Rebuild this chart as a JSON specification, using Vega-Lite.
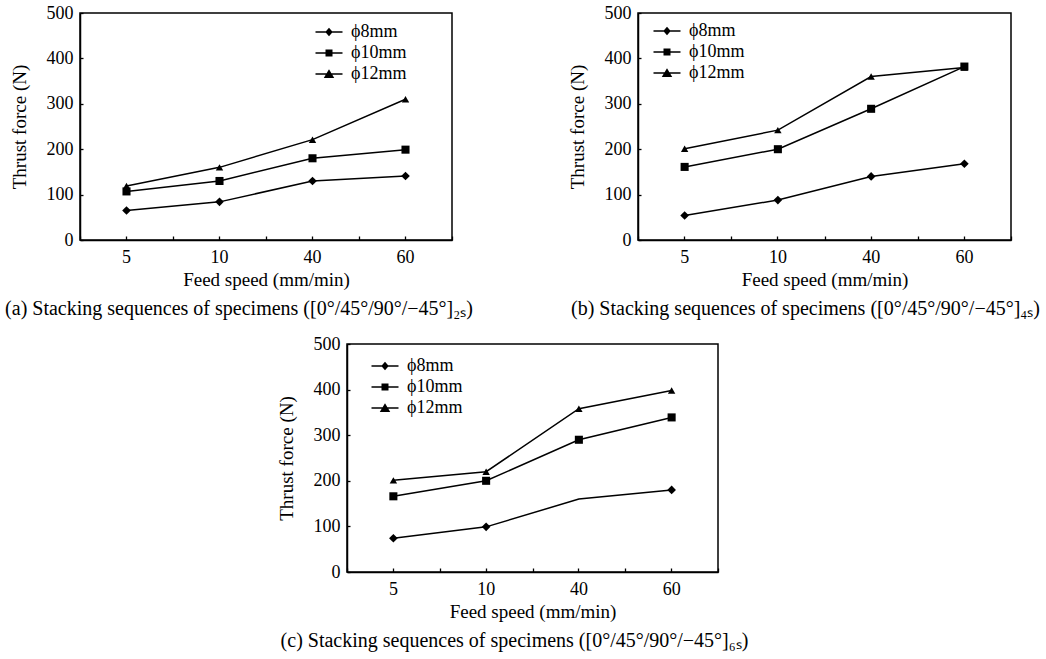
{
  "$schema": "https://vega.github.io/schema/vega-lite/v6.json",
  "autosize": {"type": "pad"},
  "padding": {"left": 4, "top": 3, "right": 0, "bottom": 0},
  "background": "white",
  "datasets": {
    "thrust": [
      {"panel": "a", "feed": "5", "series": "ϕ8mm", "force": 65},
      {"panel": "a", "feed": "10", "series": "ϕ8mm", "force": 84},
      {"panel": "a", "feed": "40", "series": "ϕ8mm", "force": 130},
      {"panel": "a", "feed": "60", "series": "ϕ8mm", "force": 141},
      {"panel": "a", "feed": "5", "series": "ϕ10mm", "force": 107},
      {"panel": "a", "feed": "10", "series": "ϕ10mm", "force": 130},
      {"panel": "a", "feed": "40", "series": "ϕ10mm", "force": 180},
      {"panel": "a", "feed": "60", "series": "ϕ10mm", "force": 199},
      {"panel": "a", "feed": "5", "series": "ϕ12mm", "force": 119},
      {"panel": "a", "feed": "10", "series": "ϕ12mm", "force": 160},
      {"panel": "a", "feed": "40", "series": "ϕ12mm", "force": 221},
      {"panel": "a", "feed": "60", "series": "ϕ12mm", "force": 310},
      {"panel": "b", "feed": "5", "series": "ϕ8mm", "force": 54},
      {"panel": "b", "feed": "10", "series": "ϕ8mm", "force": 88},
      {"panel": "b", "feed": "40", "series": "ϕ8mm", "force": 140},
      {"panel": "b", "feed": "60", "series": "ϕ8mm", "force": 168},
      {"panel": "b", "feed": "5", "series": "ϕ10mm", "force": 161},
      {"panel": "b", "feed": "10", "series": "ϕ10mm", "force": 200},
      {"panel": "b", "feed": "40", "series": "ϕ10mm", "force": 289},
      {"panel": "b", "feed": "60", "series": "ϕ10mm", "force": 382},
      {"panel": "b", "feed": "5", "series": "ϕ12mm", "force": 201},
      {"panel": "b", "feed": "10", "series": "ϕ12mm", "force": 242},
      {"panel": "b", "feed": "40", "series": "ϕ12mm", "force": 360},
      {"panel": "b", "feed": "60", "series": "ϕ12mm", "force": 380},
      {"panel": "c", "feed": "5", "series": "ϕ8mm", "force": 74},
      {"panel": "c", "feed": "10", "series": "ϕ8mm", "force": 99},
      {"panel": "c", "feed": "40", "series": "ϕ8mm", "force": 160},
      {"panel": "c", "feed": "60", "series": "ϕ8mm", "force": 180},
      {"panel": "c", "feed": "5", "series": "ϕ10mm", "force": 166},
      {"panel": "c", "feed": "10", "series": "ϕ10mm", "force": 200},
      {"panel": "c", "feed": "40", "series": "ϕ10mm", "force": 290},
      {"panel": "c", "feed": "60", "series": "ϕ10mm", "force": 339},
      {"panel": "c", "feed": "5", "series": "ϕ12mm", "force": 201},
      {"panel": "c", "feed": "10", "series": "ϕ12mm", "force": 220},
      {"panel": "c", "feed": "40", "series": "ϕ12mm", "force": 358},
      {"panel": "c", "feed": "60", "series": "ϕ12mm", "force": 398}
    ]
  },
  "spacing": 14,
  "vconcat": [
    {
      "bounds": "flush",
      "spacing": 186,
      "hconcat": [
        {
          "width": 372, "height": 227,
          "data": {"name": "thrust"},
          "transform": [{"filter": "datum.panel === 'a'"}],
          "title": {"text": "(a) Stacking sequences of specimens ([0°/45°/90°/−45°]₂ₛ)", "orient": "bottom", "anchor": "middle", "dx": -27, "offset": 10},
          "layer": [
            {
              "mark": {"type": "line", "color": "black", "strokeWidth": 1.5},
              "encoding": {
                "x": {"field": "feed", "type": "ordinal", "sort": ["5", "10", "40", "60"], "bandPosition": 0.5, "scale": {"type": "band", "paddingInner": 0, "paddingOuter": 0},
                      "axis": {"orient": "bottom", "title": "Feed speed (mm/min)", "labelAngle": 0, "tickSize": -4, "labelPadding": 12, "titlePadding": 4}},
                "y": {"field": "force", "type": "quantitative", "scale": {"domain": [0, 500]},
                      "axis": {"values": [0, 100, 200, 300, 400, 500], "tickSize": -3, "labelPadding": 10, "title": "Thrust force (N)", "titlePadding": 17}},
                "detail": {"field": "series"}
              }
            },
            {
              "mark": {"type": "point", "filled": true, "color": "black", "opacity": 1},
              "encoding": {
                "x": {"field": "feed", "type": "ordinal", "sort": ["5", "10", "40", "60"], "bandPosition": 0.5,
                      "axis": {"orient": "bottom", "tickBand": "extent", "labels": false, "domain": false, "title": null, "tickSize": -4}},
                "y": {"field": "force", "type": "quantitative"},
                "shape": {"field": "series", "scale": {"domain": ["ϕ8mm", "ϕ10mm", "ϕ12mm"], "range": ["diamond", "square", "triangle-up"]}, "legend": null},
                "size": {"field": "series", "scale": {"domain": ["ϕ8mm", "ϕ10mm", "ϕ12mm"], "range": [75, 55, 110]}, "legend": null}
              }
            },
            {
              "mark": {"type": "point", "filled": true, "color": "black", "opacity": 0},
              "encoding": {
                "x": {"field": "feed", "type": "ordinal", "sort": ["5", "10", "40", "60"], "bandPosition": 0.5, "axis": null},
                "y": {"field": "force", "type": "quantitative"},
                "shape": {"field": "series", "scale": {"domain": ["ϕ8mm", "ϕ10mm", "ϕ12mm"], "range": ["M-2.7,-0.15H2.7V0.15H-2.7Z M0,-0.85L0.75,0L0,0.85L-0.75,0Z", "M-2.7,-0.15H2.7V0.15H-2.7Z M-0.7,-0.7H0.7V0.7H-0.7Z", "M-2.7,-0.15H2.7V0.15H-2.7Z M0,-0.95L1.05,0.8H-1.05Z"]},
                          "legend": {"orient": "none", "legendX": 240, "legendY": 10, "title": null, "symbolSize": 100, "symbolFillColor": "black", "symbolStrokeColor": "black", "symbolStrokeWidth": 0, "symbolOpacity": 1, "labelOffset": 13, "rowPadding": 3, "padding": 0}}
              }
            }
          ],
          "resolve": {"scale": {"shape": "independent"}, "axis": {"x": "independent"}}
        },
        {
          "width": 373, "height": 227,
          "data": {"name": "thrust"},
          "transform": [{"filter": "datum.panel === 'b'"}],
          "title": {"text": "(b)  Stacking sequences of specimens ([0°/45°/90°/−45°]₄ₛ)", "orient": "bottom", "anchor": "middle", "dx": -19, "offset": 10},
          "layer": [
            {
              "mark": {"type": "line", "color": "black", "strokeWidth": 1.5},
              "encoding": {
                "x": {"field": "feed", "type": "ordinal", "sort": ["5", "10", "40", "60"], "bandPosition": 0.5, "scale": {"type": "band", "paddingInner": 0, "paddingOuter": 0},
                      "axis": {"orient": "bottom", "title": "Feed speed (mm/min)", "labelAngle": 0, "tickSize": -4, "labelPadding": 12, "titlePadding": 4}},
                "y": {"field": "force", "type": "quantitative", "scale": {"domain": [0, 500]},
                      "axis": {"values": [0, 100, 200, 300, 400, 500], "tickSize": -3, "labelPadding": 10, "title": "Thrust force (N)", "titlePadding": 17}},
                "detail": {"field": "series"}
              }
            },
            {
              "mark": {"type": "point", "filled": true, "color": "black", "opacity": 1},
              "encoding": {
                "x": {"field": "feed", "type": "ordinal", "sort": ["5", "10", "40", "60"], "bandPosition": 0.5,
                      "axis": {"orient": "bottom", "tickBand": "extent", "labels": false, "domain": false, "title": null, "tickSize": -4}},
                "y": {"field": "force", "type": "quantitative"},
                "shape": {"field": "series", "scale": {"domain": ["ϕ8mm", "ϕ10mm", "ϕ12mm"], "range": ["diamond", "square", "triangle-up"]}, "legend": null},
                "size": {"field": "series", "scale": {"domain": ["ϕ8mm", "ϕ10mm", "ϕ12mm"], "range": [75, 55, 110]}, "legend": null}
              }
            },
            {
              "mark": {"type": "point", "filled": true, "color": "black", "opacity": 0},
              "encoding": {
                "x": {"field": "feed", "type": "ordinal", "sort": ["5", "10", "40", "60"], "bandPosition": 0.5, "axis": null},
                "y": {"field": "force", "type": "quantitative"},
                "shape": {"field": "series", "scale": {"domain": ["ϕ8mm", "ϕ10mm", "ϕ12mm"], "range": ["M-2.7,-0.15H2.7V0.15H-2.7Z M0,-0.85L0.75,0L0,0.85L-0.75,0Z", "M-2.7,-0.15H2.7V0.15H-2.7Z M-0.7,-0.7H0.7V0.7H-0.7Z", "M-2.7,-0.15H2.7V0.15H-2.7Z M0,-0.95L1.05,0.8H-1.05Z"]},
                          "legend": {"orient": "none", "legendX": 20, "legendY": 9, "title": null, "symbolSize": 100, "symbolFillColor": "black", "symbolStrokeColor": "black", "symbolStrokeWidth": 0, "symbolOpacity": 1, "labelOffset": 13, "rowPadding": 3, "padding": 0}}
              }
            }
          ],
          "resolve": {"scale": {"shape": "independent"}, "axis": {"x": "independent"}}
        }
      ]
    },
    {
      "bounds": "flush",
      "spacing": 186,
      "hconcat": [
        {
          "width": 81, "height": 10,
          "data": {"values": []},
          "mark": {"type": "point", "opacity": 0},
          "encoding": {},
          "view": {"stroke": null}
        },
        {
          "width": 371, "height": 228,
          "data": {"name": "thrust"},
          "transform": [{"filter": "datum.panel === 'c'"}],
          "title": {"text": "(c)  Stacking sequences of specimens ([0°/45°/90°/−45°]₆ₛ)", "orient": "bottom", "anchor": "middle", "dx": -18, "offset": 10},
          "layer": [
            {
              "mark": {"type": "line", "color": "black", "strokeWidth": 1.5},
              "encoding": {
                "x": {"field": "feed", "type": "ordinal", "sort": ["5", "10", "40", "60"], "bandPosition": 0.5, "scale": {"type": "band", "paddingInner": 0, "paddingOuter": 0},
                      "axis": {"orient": "bottom", "title": "Feed speed (mm/min)", "labelAngle": 0, "tickSize": -4, "labelPadding": 12, "titlePadding": 4}},
                "y": {"field": "force", "type": "quantitative", "scale": {"domain": [0, 500]},
                      "axis": {"values": [0, 100, 200, 300, 400, 500], "tickSize": -3, "labelPadding": 10, "title": "Thrust force (N)", "titlePadding": 17}},
                "detail": {"field": "series"}
              }
            },
            {
              "transform": [{"filter": "!(datum.series === 'ϕ8mm' && datum.feed === '40')"}],
              "mark": {"type": "point", "filled": true, "color": "black", "opacity": 1},
              "encoding": {
                "x": {"field": "feed", "type": "ordinal", "sort": ["5", "10", "40", "60"], "bandPosition": 0.5,
                      "axis": {"orient": "bottom", "tickBand": "extent", "labels": false, "domain": false, "title": null, "tickSize": -4}},
                "y": {"field": "force", "type": "quantitative"},
                "shape": {"field": "series", "scale": {"domain": ["ϕ8mm", "ϕ10mm", "ϕ12mm"], "range": ["diamond", "square", "triangle-up"]}, "legend": null},
                "size": {"field": "series", "scale": {"domain": ["ϕ8mm", "ϕ10mm", "ϕ12mm"], "range": [75, 55, 110]}, "legend": null}
              }
            },
            {
              "mark": {"type": "point", "filled": true, "color": "black", "opacity": 0},
              "encoding": {
                "x": {"field": "feed", "type": "ordinal", "sort": ["5", "10", "40", "60"], "bandPosition": 0.5, "axis": null},
                "y": {"field": "force", "type": "quantitative"},
                "shape": {"field": "series", "scale": {"domain": ["ϕ8mm", "ϕ10mm", "ϕ12mm"], "range": ["M-2.7,-0.15H2.7V0.15H-2.7Z M0,-0.85L0.75,0L0,0.85L-0.75,0Z", "M-2.7,-0.15H2.7V0.15H-2.7Z M-0.7,-0.7H0.7V0.7H-0.7Z", "M-2.7,-0.15H2.7V0.15H-2.7Z M0,-0.95L1.05,0.8H-1.05Z"]},
                          "legend": {"orient": "none", "legendX": 29, "legendY": 13, "title": null, "symbolSize": 100, "symbolFillColor": "black", "symbolStrokeColor": "black", "symbolStrokeWidth": 0, "symbolOpacity": 1, "labelOffset": 13, "rowPadding": 3, "padding": 0}}
              }
            }
          ],
          "resolve": {"scale": {"shape": "independent"}, "axis": {"x": "independent"}}
        }
      ]
    }
  ],
  "config": {
    "view": {"stroke": "black", "strokeWidth": 1.5},
    "axis": {"labelFont": "Liberation Serif", "labelFontSize": 18, "labelColor": "black", "titleFont": "Liberation Serif", "titleFontSize": 19, "titleFontWeight": "normal", "titleColor": "black", "domainColor": "black", "domainWidth": 1.5, "tickColor": "black", "tickWidth": 1.3, "grid": false},
    "legend": {"labelFont": "Liberation Serif", "labelFontSize": 18, "labelColor": "black", "labelLimit": 200},
    "title": {"font": "Liberation Serif", "fontSize": 20, "fontWeight": "normal", "color": "black"}
  }
}
